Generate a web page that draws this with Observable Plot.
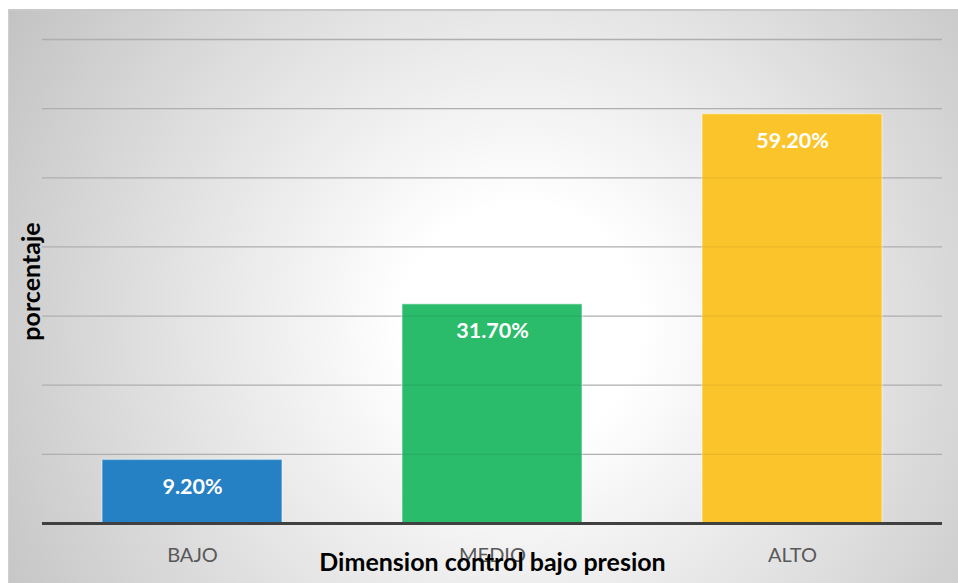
<!DOCTYPE html>
<html>
<head>
<meta charset="utf-8">
<script src="https://cdn.jsdelivr.net/npm/d3@7"></script>
<script src="https://cdn.jsdelivr.net/npm/@observablehq/plot@0.6"></script>
<style>
  html, body { margin: 0; padding: 0; background: #ffffff; }
  #panel {
    position: absolute; left: 8px; top: 9px; width: 950px; height: 574px;
    background: radial-gradient(circle farthest-corner at 54% 55%, #ffffff 0%, #ffffff 20%, #c3c3c3 100%);
    border-top: 2px solid #c9c9c9; border-left: 1px solid #cfcfcf; box-sizing: border-box;
  }
  #chart { position: absolute; left: 0; top: 0; }
</style>
</head>
<body>
<div id="panel"></div>
<div id="chart"></div>
<script>
// Dimension "control bajo presion": share of respondents by level
const categories = ["BAJO", "MEDIO", "ALTO"];
const values = [9.2, 31.7, 59.2];
const barColors = ["#2581C4", "#2ABB6B", "#FBC42A"];
const gridTicks = [10, 20, 30, 40, 50, 60, 70];
const xTitle = "Dimension control bajo presion";
const yTitle = "porcentaje";

const data = categories.map((c, i) => ({ nivel: c, pct: values[i] }));

const chart = Plot.plot({
  width: 958,
  height: 583,
  marginLeft: 42,
  marginRight: 16,
  marginTop: 39,
  marginBottom: 60,
  style: { background: "transparent", fontFamily: "Lato, sans-serif" },
  x: { domain: categories, paddingInner: 0.4, paddingOuter: 0.2, label: null },
  y: { domain: [0, 70], axis: null },
  color: { domain: categories, range: barColors },
  marks: [
    // gridlines behind the bars
    Plot.ruleY(gridTicks, { stroke: "#bdbdbd", strokeWidth: 1.3 }),
    Plot.barY(data, {
      x: "nivel", y: "pct", fill: "nivel",
      stroke: "#ffffff", strokeOpacity: 0.4, strokeWidth: 1.5
    }),
    // faint trace of the gridlines showing through the bars
    Plot.ruleY(gridTicks, { stroke: "#000000", strokeOpacity: 0.07, strokeWidth: 1.3 }),
    Plot.ruleY([0], { stroke: "#404040", strokeWidth: 3 }),
    Plot.text(data, {
      x: "nivel", y: "pct", text: d => d.pct.toFixed(2) + "%",
      dy: 27, fill: "#ffffff", fontWeight: "bold", fontSize: 21.5
    }),
    Plot.axisX({ tickSize: 0, tickPadding: 24, fontSize: 20, color: "#595959", label: null }),
    Plot.text([xTitle], {
      frameAnchor: "bottom", dy: 47, text: d => d,
      fontWeight: "bold", fontSize: 25, fill: "#000000"
    }),
    Plot.text([yTitle], {
      frameAnchor: "left", textAnchor: "middle", dx: -11, rotate: -90, text: d => d,
      fontWeight: "bold", fontSize: 25, fill: "#000000"
    })
  ]
});

document.getElementById("chart").appendChild(chart);
</script>
</body>
</html>
